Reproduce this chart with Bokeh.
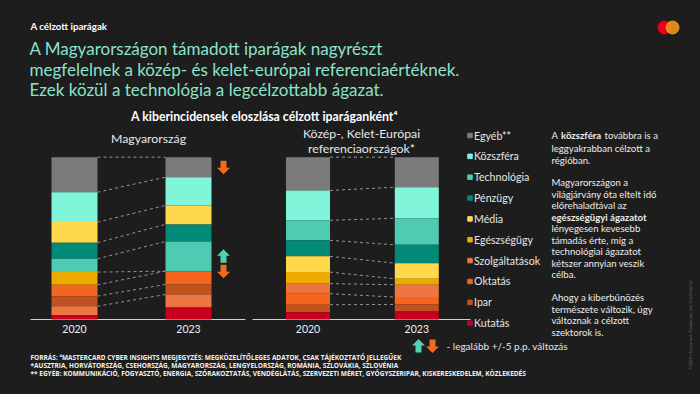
import math
from bokeh.plotting import figure
from bokeh.models import Range1d, ColumnDataSource
from bokeh.embed import file_html
from bokeh.resources import INLINE
from bokeh.core.properties import value

# ---------------- data ----------------
categories = ["Egyéb**", "Közszféra", "Technológia", "Pénzügy", "Média",
              "Egészségügy", "Szolgáltatások", "Oktatás", "Ipar", "Kutatás"]
years = ["2020", "2023"]
hu_2020 = [21.6, 18.4, 8.2, 9.9, 12.7, 7.8, 5.6, 7.0, 6.2, 2.6]
hu_2023 = [12.3, 17.4, 18.3, 10.5, 11.7, 0.0, 8.0, 8.2, 6.2, 7.4]
cee_2020 = [20.5, 18.4, 12.3, 9.9, 9.7, 7.1, 6.2, 6.8, 4.6, 4.5]
cee_2023 = [18.5, 19.1, 16.4, 11.3, 9.6, 3.7, 7.6, 4.5, 4.1, 5.2]
# stacking order, top -> bottom
hu_order = ["Egyéb**", "Közszféra", "Média", "Pénzügy", "Technológia",
            "Egészségügy", "Oktatás", "Ipar", "Szolgáltatások", "Kutatás"]
cee_order = list(categories)
panel_titles = [["Magyarország"], ["Közép-, Kelet-Európai", "referenciaországok*"]]
threshold = 5.0

# ---------------- styles ----------------
colors = {
    "Egyéb**": "#7b7b7b", "Közszféra": "#80F5DA", "Technológia": "#4FCBB2",
    "Pénzügy": "#008A77", "Média": "#FFD84B", "Egészségügy": "#EDAB00",
    "Szolgáltatások": "#EC7542", "Oktatás": "#F4651F", "Ipar": "#C2521D",
    "Kutatás": "#C8001E",
}
BG = "#1d1d1d"
MINT = "#8BE3CB"
UP_C = "#4FD1B5"
DOWN_C = "#F26A21"
FONT = "Lato"

W, H = 700, 394
PAGE = 0
BAR_TOP, BASE = 156.7, 319.0
px_per_pct = (BASE - BAR_TOP) / 100.0
pct_lo = -((PAGE + H) - BASE) / px_per_pct
pct_hi = 100.0 + (BAR_TOP - PAGE) / px_per_pct

p = figure(width=W, height=H, x_range=Range1d(PAGE, PAGE + W),
           y_range=Range1d(PAGE + H, PAGE), output_backend="svg",
           toolbar_location=None, min_border=0, x_axis_location=None,
           y_axis_location=None, background_fill_color=BG,
           border_fill_color=BG, outline_line_color=None)
p.grid.grid_line_color = None
p.extra_y_ranges = {"pct": Range1d(pct_lo, pct_hi)}


def txt(x, y, s, size, color="#ececec", bold=False, align="left", angle=0.0,
        font=FONT):
    p.text(x=[x], y=[y], text=[s], text_font=value(font),
           text_font_size=value(f"{size}px"), text_color=color,
           text_font_style="bold" if bold else "normal",
           text_align=align, text_baseline="middle", angle=angle)


# block-arrow outline in screen-pixel offsets (pointing up, y downwards)
ARROW_SHAPE = [(0, -7.0), (6.5, -0.5), (3.0, -0.5), (3.0, 6.5),
               (-3.0, 6.5), (-3.0, -0.5), (-6.5, -0.5)]


def arrow(cx, cy, up, color, pct=False):
    sgn = 1 if up else -1
    xs = [cx + dx for dx, dy in ARROW_SHAPE]
    if pct:
        ys = [cy + sgn * dy / px_per_pct * -1 for dx, dy in ARROW_SHAPE]
        p.patch(xs, ys, color=color, line_color=None, y_range_name="pct")
    else:
        ys = [cy + sgn * dy for dx, dy in ARROW_SHAPE]
        p.patch(xs, ys, color=color, line_color=None)


# ---------------- bars ----------------
panels = [
    dict(order=hu_order, vals={"2020": hu_2020, "2023": hu_2023},
         xs=[74.0, 188.0], width=46, title_x=148, title_y=[138],
         arrow_x=223, base=(30, 245)),
    dict(order=cee_order, vals={"2020": cee_2020, "2023": cee_2023},
         xs=[307.5, 416.3], width=44, title_x=361, title_y=[133, 148],
         arrow_x=451, base=(252, 470)),
]

bx, bw, bb, bt, bc = [], [], [], [], []
seg = dict(x0=[], x1=[], y0=[], y1=[])
arrows = []
for pi, pn in enumerate(panels):
    tops = {}
    for yi, yr in enumerate(years):
        v = dict(zip(categories, pn["vals"][yr]))
        total = sum(v.values())
        acc = 0.0
        tops[yr] = {}
        for c in pn["order"]:
            top = total - acc
            acc += v[c]
            bx.append(pn["xs"][yi]); bw.append(pn["width"])
            bt.append(top); bb.append(top - v[c]); bc.append(colors[c])
            tops[yr][c] = (top, top - v[c])
    # dashed connectors between boundaries
    for c in pn["order"][:-1]:
        seg["x0"].append(pn["xs"][0] + pn["width"] / 2)
        seg["x1"].append(pn["xs"][1] - pn["width"] / 2)
        seg["y0"].append(tops["2020"][c][0])
        seg["y1"].append(tops["2023"][c][0])
    # change arrows (>= threshold p.p.)
    v20 = dict(zip(categories, pn["vals"]["2020"]))
    v23 = dict(zip(categories, pn["vals"]["2023"]))
    for c in pn["order"]:
        d = v23[c] - v20[c]
        if abs(d) >= threshold:
            mid = sum(tops["2023"][c]) / 2.0
            arrows.append((pn["arrow_x"], mid, d > 0))
    # baseline
    p.segment(x0=[pn["base"][0]], x1=[pn["base"][1]], y0=[0], y1=[0],
              y_range_name="pct", line_color="#cfcfcf", line_width=1)
    # year labels
    for yi, yr in enumerate(years):
        txt(pn["xs"][yi], 328.5, yr, 10.5, color="#f0f0f0", align="center")
    for li, line in enumerate(panel_titles[pi]):
        txt(pn["title_x"], pn["title_y"][li], line, 12.3, color="#e8e8e8",
            align="center")

p.segment(x0="x0", x1="x1", y0="y0", y1="y1", source=ColumnDataSource(seg),
          y_range_name="pct", line_color="#959595", line_width=1,
          line_dash="3 3")
p.vbar(x="x", width="w", bottom="b", top="t", color="c",
       source=ColumnDataSource(dict(x=bx, w=bw, b=bb, t=bt, c=bc)),
       y_range_name="pct", line_color=None)
for ax, ay, up in arrows:
    arrow(ax, ay, up, UP_C if up else DOWN_C, pct=True)

# ---------------- legend ----------------
for i, c in enumerate(categories):
    y = 135 + i * 20.85
    p.scatter(x=[469.5], y=[y], marker="square", size=4.5, color=colors[c])
    txt(473.5, y, c, 10.6, color="#e6e6e6")

# legend of arrows
arrow(418, 345.5, True, UP_C)
arrow(432, 345.5, False, DOWN_C)
txt(446, 345.5, "- legalább +/-5 p.p. változás", 10, color="#e6e6e6")

# ---------------- titles ----------------
txt(30, 25, "A célzott iparágak", 9.7, color="#ffffff", bold=True)
title_lines = ["A Magyarországon támadott iparágak nagyrészt",
               "megfelelnek a közép- és kelet-európai referenciaértéknek.",
               "Ezek közül a technológia a legcélzottabb ágazat."]
for i, line in enumerate(title_lines):
    txt(29, 48 + i * 20.5, line, 17.0, color=MINT)
txt(264, 116, "A kiberincidensek eloszlása célzott iparáganként⁴", 12.3,
    color="#ffffff", bold=True, align="center")

# Mastercard logo
p.scatter(x=[664], y=[27], size=13, color="#EB001B")
p.scatter(x=[672], y=[27], size=13, color="#F79E1B", alpha=0.85)

# ---------------- right text ----------------
TX = 551
RS = 9.6
txt(TX, 135, "A", RS)
txt(560.5, 135, "közszféra", RS, bold=True)
txt(604, 135, "továbbra is a", RS)
rt = [(147.5, "leggyakrabban célzott a", False), (160, "régióban.", False),
      (182, "Magyarországon a", False), (193.5, "világjárvány óta eltelt idő", False),
      (205, "előrehaladtával az", False), (216.5, "egészségügyi ágazatot", True),
      (228, "lényegesen kevesebb", False), (239.5, "támadás érte, míg a", False),
      (251, "technológiai ágazatot", False), (262.5, "kétszer annyian veszik", False),
      (274, "célba.", False),
      (297, "Ahogy a kiberbűnözés", False), (308.5, "természete változik, úgy", False),
      (320, "változnak a célzott", False), (331.5, "szektorok is.", False)]
for y, s, b in rt:
    txt(TX, y, s, RS, bold=b)

# ---------------- footnotes ----------------
notes = ["FORRÁS: ⁴MASTERCARD CYBER INSIGHTS MEGJEGYZÉS: MEGKÖZELÍTŐLEGES ADATOK, CSAK TÁJÉKOZTATÓ JELLEGŰEK",
         "*AUSZTRIA, HORVÁTORSZÁG, CSEHORSZÁG, MAGYARORSZÁG, LENGYELORSZÁG, ROMÁNIA, SZLOVÁKIA, SZLOVÉNIA",
         "** EGYÉB: KOMMUNIKÁCIÓ, FOGYASZTÓ, ENERGIA, SZÓRAKOZTATÁS, VENDÉGLÁTÁS, SZERVEZETI MÉRET, GYÓGYSZERIPAR, KISKERESKEDELEM, KÖZLEKEDÉS"]
for i, s in enumerate(notes):
    txt(30, 357 + i * 8.2, s, 6.5, color="#f2f2f2", bold=True, font="Open Sans")

txt(690, 325, "©2023 Mastercard. Proprietary and Confidential", 4.2,
    color="#6f6f6f", align="center", angle=math.pi / 2)

html = file_html(p, INLINE)
html = html.replace("<head>", "<head><style>html,body{background:%s;}</style>" % BG, 1)
open("out.html", "w").write(html)
